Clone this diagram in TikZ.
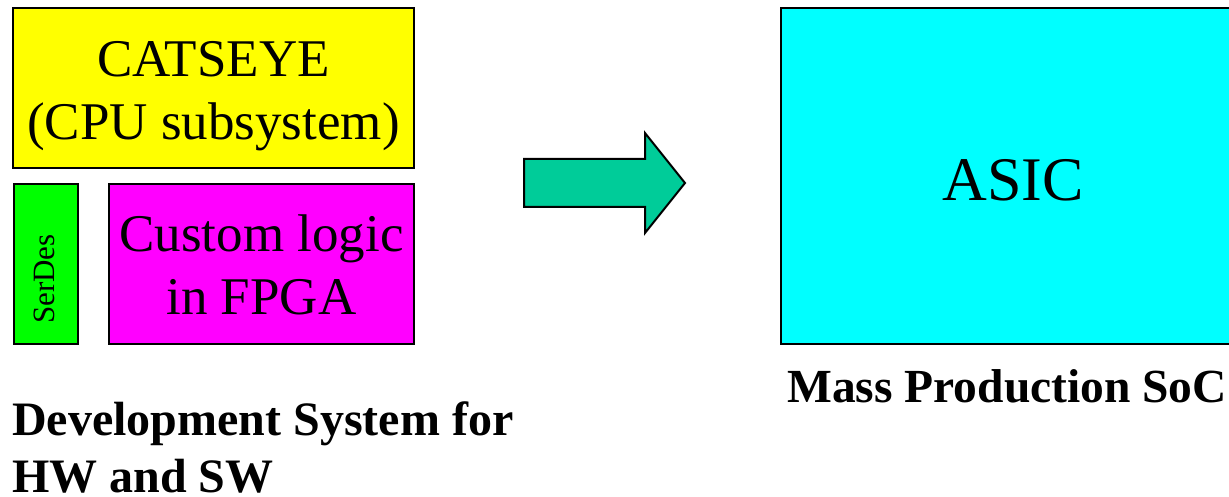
\documentclass[tikz,border=0pt]{standalone}
\usepackage{fontspec}
\setmainfont{Liberation Serif}
\usepackage{xcolor}
\usepackage{tikz}
\usetikzlibrary{positioning, calc}
\definecolor{catyellow}{RGB}{255,255,0}
\definecolor{fpgamagenta}{RGB}{255,0,255}
\definecolor{serdesgreen}{RGB}{0,255,0}
\definecolor{asiccyan}{RGB}{0,255,255}
\definecolor{arrowteal}{RGB}{0,204,153}

\begin{document}
\begin{tikzpicture}[x=1pt, y=-1pt,
    blockbox/.style={draw, line width=2pt, inner sep=0pt, anchor=north west},
    boxtext/.style={align=center, inner sep=0pt, font=\fontsize{53}{63}\selectfont},
    caption/.style={align=left, inner sep=0pt, font=\fontsize{48}{57}\selectfont\bfseries}]
            \useasboundingbox (0,0) rectangle (1229,497);
            % development system
            \node[blockbox, fill=catyellow, minimum width=401pt, minimum height=160pt] (catseye) at (12,7) {};
            \node[blockbox, fill=serdesgreen, minimum width=64pt, minimum height=160pt] (serdes) at (13,183) {};
            \node[blockbox, fill=fpgamagenta, minimum width=305pt, minimum height=160pt] (fpga) at (108,183) {};
            \node[boxtext] (catseyetext) at ([yshift=-8pt]catseye.center) {CATSEYE\\(CPU subsystem)};
            \node[boxtext] (fpgatext) at ([yshift=-1pt]fpga.center) {Custom logic\\in FPGA};
            \node[inner sep=0pt, rotate=90, font=\fontsize{31}{37}\selectfont] (serdestext) at ([xshift=-2pt, yshift=-15pt]serdes.center) {SerDes};
            % mass production
            \begin{scope}
                \clip (0,0) rectangle (1229,497);
                \node[blockbox, fill=asiccyan, minimum width=464pt, minimum height=336pt] (asic) at (780,7) {};
            \end{scope}
            \node[inner sep=0pt, font=\fontsize{62}{74}\selectfont] (asictext) at ([yshift=-4.5pt]asic.center) {ASIC};
            % migration arrow
            \draw[line width=2pt, fill=arrowteal, line join=miter]
                (524,159) -- (645,159) -- (645,133) -- (685,183) -- (645,233) -- (645,207) -- (524,207) -- cycle;
            \node[caption, anchor=base west] (devcaption) at (12,435) {Development System for};
            \node[caption, anchor=base west] (devcaption2) at (12,492) {HW and SW};
            \node[caption, anchor=base west, font=\fontsize{47.5}{57}\selectfont\bfseries] (soccaption) at (787,402) {Mass Production SoC};
        \end{tikzpicture}
\end{document}
